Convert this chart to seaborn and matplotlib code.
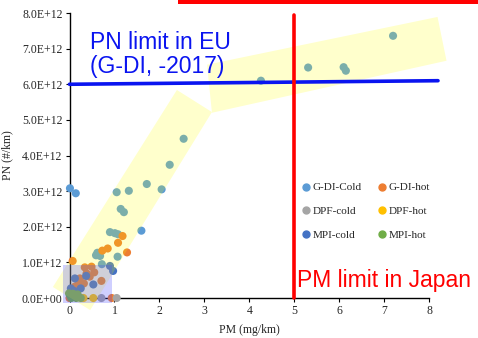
import numpy as np
import pandas as pd
import seaborn as sns
import matplotlib.pyplot as plt
from matplotlib.patches import Polygon, Rectangle
from matplotlib.lines import Line2D

# PM (mg/km) and PN (1e12 #/km), one pair of lists per group
gdi_cold_pm = [0.01, 0.14, 1.05, 1.32, 1.72, 2.05, 1.14, 1.21, 0.90, 1.01, 1.08, 1.60,
               0.62, 0.59, 0.68, 1.07, 0.72, 2.54, 2.23, 4.26, 5.31, 6.10, 6.15, 7.20]
gdi_cold_pn = [3.08, 2.94, 2.97, 3.01, 3.20, 3.05, 2.50, 2.41, 1.85, 1.82, 1.79, 1.89,
               1.27, 1.20, 1.18, 1.16, 0.95, 4.47, 3.74, 6.10, 6.47, 6.48, 6.38, 7.36]
gdi_hot_pm = [0.07, 0.73, 0.85, 1.08, 1.18, 1.28, 0.34, 0.49, 0.38, 0.23, 0.32, 0.12,
              0.71, 0.45, 0.20, 0.94, 0.00, 0.55]
gdi_hot_pn = [1.04, 1.33, 1.39, 1.55, 1.74, 1.28, 0.86, 0.88, 0.69, 0.55, 0.41, 0.32,
              0.48, 0.60, 0.40, 0.00, 0.00, 0.72]
dpf_cold_pm = [0.71, 1.05]
dpf_cold_pn = [0.00, 0.00]
dpf_hot_pm = [0.31, 0.53]
dpf_hot_pn = [0.00, 0.00]
mpi_cold_pm = [0.12, 0.25, 0.53, 0.90, 0.97, 0.03, 0.37, 0.10]
mpi_cold_pn = [0.55, 0.27, 0.38, 0.90, 0.76, 0.27, 0.62, 0.20]
mpi_hot_pm = [0.01, 0.10, 0.20, 0.04, 0.15, -0.01, 0.25, 0.08, 0.18]
mpi_hot_pn = [0.08, 0.05, 0.03, 0.00, 0.00, 0.13, 0.00, 0.12, 0.10]

groups = ['G-DI-Cold', 'G-DI-hot', 'DPF-cold', 'DPF-hot', 'MPI-cold', 'MPI-hot']
colors = ['#5B9BD5', '#ED7D31', '#A5A5A5', '#FFC000', '#4472C4', '#70AD47']

x_ticks = [0, 1, 2, 3, 4, 5, 6, 7, 8]
y_ticks = [0, 1, 2, 3, 4, 5, 6, 7, 8]
y_tick_labels = ['0.0E+00', '1.0E+12', '2.0E+12', '3.0E+12', '4.0E+12',
                 '5.0E+12', '6.0E+12', '7.0E+12', '8.0E+12']

pn_limit = [6.0, 6.1]      # EU PN limit line (slightly tilted in the original)
pm_limit = 5.0             # Japan PM limit

frames = []
for g, xs, ys in zip(groups,
                     [gdi_cold_pm, gdi_hot_pm, dpf_cold_pm, dpf_hot_pm, mpi_cold_pm, mpi_hot_pm],
                     [gdi_cold_pn, gdi_hot_pn, dpf_cold_pn, dpf_hot_pn, mpi_cold_pn, mpi_hot_pn]):
    frames.append(pd.DataFrame({'pm': xs, 'pn': np.array(ys) * 1e12, 'group': g}))
df = pd.concat(frames, ignore_index=True)

sns.set_style('ticks')
plt.rcParams['font.family'] = ['Liberation Serif', 'DejaVu Serif']

fig = plt.figure(figsize=(4.78, 3.38), dpi=100)
ax = fig.add_axes([0.1454, 0.1183, 0.7521, 0.8432])

sns.scatterplot(data=df, x='pm', y='pn', hue='group', hue_order=groups,
                palette=colors, s=34, linewidth=0, legend=False, ax=ax,
                clip_on=False, zorder=3)

# yellow trend band (two pieces) and the lavender box, drawn over the points
band_lo = [(-0.37, 0.31e12), (0.46, -0.34e12), (3.17, 5.22e12), (2.39, 5.84e12)]
band_hi = [(3.06, 6.55e12), (8.19, 7.89e12), (8.39, 6.66e12), (3.17, 5.20e12)]
for pts in (band_lo, band_hi):
    ax.add_patch(Polygon(pts, closed=True, facecolor='#ffff00', alpha=0.2,
                         edgecolor='none', clip_on=False, zorder=4))
ax.add_patch(Rectangle((-0.14, -0.14e12), 1.08, 1.07e12, facecolor='#4848ff',
                       alpha=0.26, edgecolor='none', clip_on=False, zorder=4.5))

# limit lines
ax.plot([0, 8.2], [pn_limit[0] * 1e12, pn_limit[1] * 1e12], color='#0a14f0', lw=2.6,
        clip_on=False, zorder=5)
ax.plot([pm_limit, pm_limit], [0, 7.95e12], color='#ff0000', lw=2.6,
        clip_on=False, zorder=5)

ax.text(0.45, 6.83e12, 'PN limit in EU\n(G-DI, -2017)', color='#0a14f0',
        fontsize=16.5, family=['Liberation Sans', 'DejaVu Sans'],
        va='center', ha='left', linespacing=1.05, zorder=6)
ax.text(5.06, 0.5e12, 'PM limit in Japan', color='#ff0000',
        fontsize=16.5, family=['Liberation Sans', 'DejaVu Sans'],
        va='center', ha='left', zorder=6)

ax.set_xlim(0, 8)
ax.set_ylim(0, 8e12)
ax.set_xticks(x_ticks)
ax.set_xticklabels([str(t) for t in x_ticks], family='Liberation Serif')
ax.set_yticks(np.array(y_ticks) * 1e12)
ax.set_yticklabels(y_tick_labels, family='Liberation Serif')
ax.tick_params(labelsize=8.5, length=3, width=0.8, color='black', pad=2)
ax.set_xlabel('PM (mg/km)', fontsize=8.5, labelpad=5)
ax.set_ylabel('PN (#/km)', fontsize=8.5, labelpad=6)
for side in ['left', 'bottom']:
    ax.spines[side].set_color('black')
    ax.spines[side].set_linewidth(1.0)
sns.despine(ax=ax)

# legend rows are G-DI / DPF / MPI, columns cold / hot
order = [0, 2, 4, 1, 3, 5]
handles = [Line2D([], [], marker='o', ls='', color=colors[i], markersize=5) for i in order]
ax.legend(handles, [groups[i] for i in order], ncol=2, frameon=False,
          loc='upper left', bbox_to_anchor=(0.615, 0.44), fontsize=8,
          handletextpad=0.05, handlelength=1.0, columnspacing=1.4, labelspacing=1.25)

# red box edge clipped at the top of the slide
fig.patches.append(Rectangle((178 / 478, 1 - 4 / 338), 300 / 478, 4 / 338,
                             transform=fig.transFigure, facecolor='#ff0000',
                             edgecolor='none'))

fig.savefig('out.png', dpi=100)
